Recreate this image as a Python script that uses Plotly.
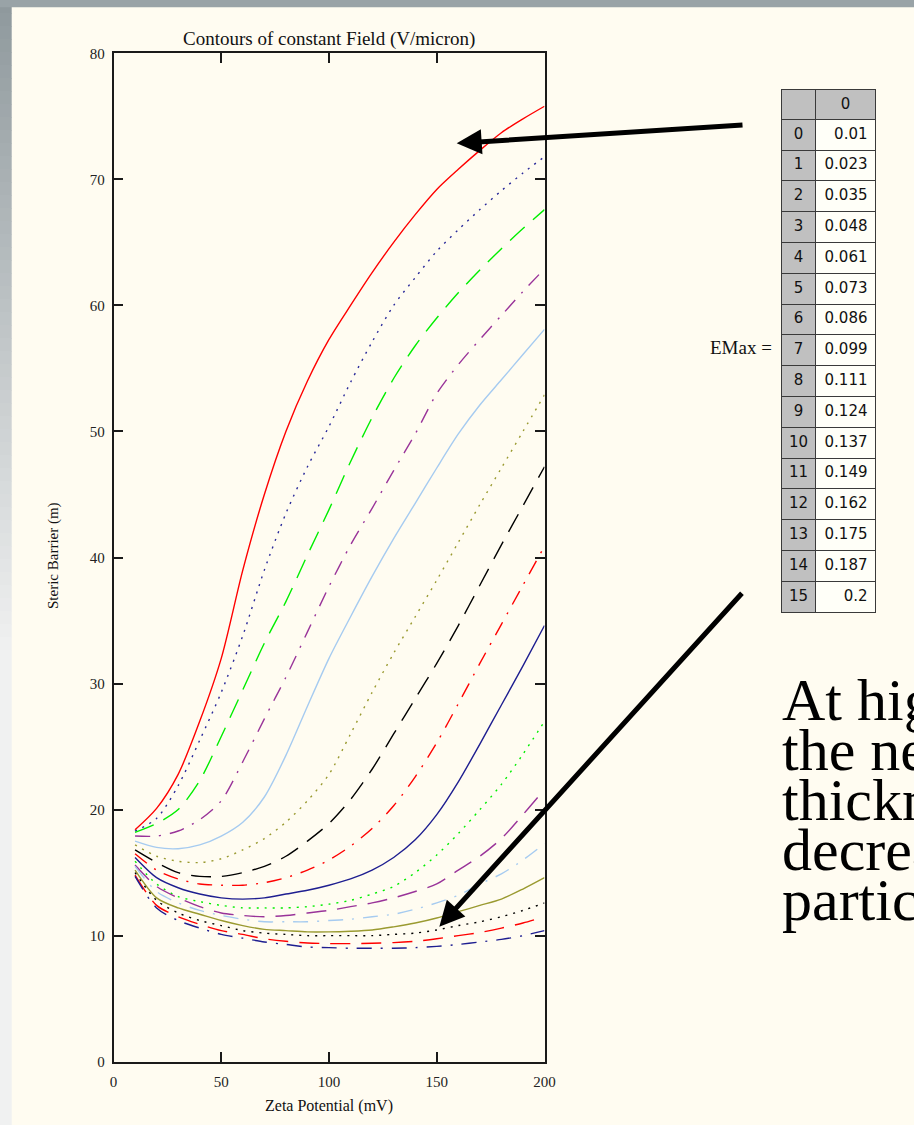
import plotly.graph_objects as go

W, H = 914, 1125

# ---------------- data ----------------
zeta = [10, 20, 30, 40, 50, 60, 70, 80, 90, 100, 110, 120, 130, 140, 150, 160, 170, 180, 190, 200]

emax_index = list(range(16))
emax_values = [0.01, 0.023, 0.035, 0.048, 0.061, 0.073, 0.086, 0.099,
               0.111, 0.124, 0.137, 0.149, 0.162, 0.175, 0.187, 0.2]

c00 = [18.4, 20.1, 22.8, 27.0, 32.0, 39.0, 45.0, 50.0, 54.0, 57.3, 60.0, 62.6, 65.0, 67.2, 69.2, 70.8, 72.3, 73.7, 74.8, 75.8]
c01 = [18.3, 19.3, 21.9, 25.5, 29.3, 33.8, 39.0, 43.5, 47.2, 50.4, 53.9, 57.1, 60.0, 62.2, 64.3, 66.0, 67.6, 69.1, 70.5, 71.8]
c02 = [18.2, 18.9, 20.0, 22.3, 25.8, 29.5, 33.2, 36.5, 40.2, 43.8, 47.6, 51.1, 54.2, 56.8, 59.0, 61.0, 62.8, 64.5, 66.1, 67.6]
c03 = [17.9, 17.9, 18.3, 19.2, 20.7, 23.8, 27.2, 30.5, 34.1, 37.7, 41.0, 43.9, 46.9, 49.8, 53.0, 55.3, 57.3, 59.2, 61.1, 62.9]
c04 = [17.5, 17.0, 16.9, 17.2, 17.9, 19.0, 21.0, 24.3, 28.2, 32.0, 35.3, 38.5, 41.5, 44.3, 47.1, 49.8, 52.1, 54.1, 56.1, 58.1]
c05 = [17.2, 16.3, 15.9, 15.8, 16.1, 16.8, 17.7, 19.0, 20.7, 22.8, 26.0, 29.3, 32.4, 35.3, 38.2, 41.2, 44.2, 47.1, 50.0, 52.9]
c06 = [16.8, 15.8, 15.0, 14.7, 14.7, 15.0, 15.5, 16.3, 17.5, 18.9, 20.8, 23.2, 26.0, 28.8, 31.6, 34.6, 37.8, 41.0, 44.1, 47.2]
c07 = [16.5, 15.2, 14.5, 14.1, 14.0, 14.0, 14.2, 14.6, 15.2, 16.0, 17.1, 18.5, 20.3, 22.6, 25.3, 28.4, 31.6, 34.7, 37.8, 40.9]
c08 = [16.2, 14.6, 13.8, 13.3, 13.0, 12.9, 13.0, 13.3, 13.6, 14.0, 14.5, 15.2, 16.2, 17.6, 19.6, 22.2, 25.2, 28.3, 31.4, 34.6]
c09 = [15.9, 14.1, 13.1, 12.7, 12.4, 12.2, 12.2, 12.2, 12.3, 12.5, 12.8, 13.3, 13.9, 15.0, 16.4, 18.1, 20.0, 22.0, 24.4, 27.0]
c10 = [15.6, 13.9, 13.0, 12.3, 11.8, 11.6, 11.5, 11.6, 11.8, 12.0, 12.3, 12.6, 13.0, 13.5, 14.1, 15.2, 16.3, 17.7, 19.6, 21.6]
c11 = [15.5, 13.5, 12.6, 12.0, 11.6, 11.3, 11.1, 11.1, 11.1, 11.2, 11.3, 11.5, 11.7, 12.1, 12.6, 13.2, 14.1, 14.9, 16.0, 17.3]
c12 = [15.2, 13.0, 12.2, 11.7, 11.2, 10.8, 10.5, 10.4, 10.3, 10.3, 10.35, 10.45, 10.7, 11.0, 11.4, 11.9, 12.4, 12.9, 13.7, 14.6]
c13 = [15.0, 12.8, 11.8, 11.2, 10.8, 10.4, 10.2, 10.1, 10.0, 10.0, 10.0, 10.0, 10.1, 10.2, 10.45, 10.8, 11.1, 11.5, 12.0, 12.6]
c14 = [14.8, 12.4, 11.5, 10.9, 10.4, 10.1, 9.75, 9.55, 9.42, 9.37, 9.37, 9.4, 9.45, 9.55, 9.75, 10.0, 10.25, 10.6, 11.0, 11.5]
c15 = [14.7, 12.2, 11.2, 10.6, 10.1, 9.8, 9.5, 9.3, 9.1, 9.05, 9.0, 9.0, 9.0, 9.05, 9.15, 9.3, 9.5, 9.7, 10.0, 10.4]

curves = [c00, c01, c02, c03, c04, c05, c06, c07, c08, c09, c10, c11, c12, c13, c14, c15]

x_ticks = [0, 50, 100, 150, 200]
y_ticks = [0, 10, 20, 30, 40, 50, 60, 70, 80]

# ---------------- styles ----------------
RED, BLUE, GREEN, PURPLE = "#ff0000", "#2a2a9a", "#00ee00", "#993399"
LBLUE, OLIVE, BLACK, NAVY = "#a6cbf0", "#9a9a30", "#000000", "#1e1e90"
DOT, DASH, DASHDOT = "2px,6px", "20px,11px", "15px,9px,2px,9px"
styles = [
    (RED, "solid"), (BLUE, DOT), (GREEN, DASH), (PURPLE, DASHDOT),
    (LBLUE, "solid"), (OLIVE, DOT), (BLACK, DASH), (RED, DASHDOT),
    (NAVY, "solid"), (GREEN, DOT), (PURPLE, DASH), (LBLUE, DASHDOT),
    (OLIVE, "solid"), (BLACK, DOT), (RED, DASH), (NAVY, DASHDOT),
]

BG = "#fffcf1"
SERIF = "Liberation Serif"

fig = go.Figure()
for i, ys in enumerate(curves):
    col, dash = styles[i]
    fig.add_trace(go.Scatter(x=zeta, y=ys, mode="lines", name=f"EMax {emax_values[i]}",
                             line=dict(color=col, dash=dash, width=1.4, shape="spline", smoothing=0.8),
                             showlegend=False, hoverinfo="skip"))

# table of EMax
GRAY = "#c0c0c0"
fig.add_trace(go.Table(
    domain=dict(x=[781.5 / W, 876.5 / W], y=[1 - 640 / H, 1 - 89.3 / H]),
    columnwidth=[34, 60],
    header=dict(values=["", "0"], fill_color=GRAY, align="center", height=30,
                line=dict(color="#3a3a3a", width=1),
                font=dict(family="DejaVu Sans", size=15, color="#111")),
    cells=dict(values=[emax_index, [f"{v:g}" for v in emax_values]],
               fill_color=[[GRAY] * 16, ["#fffff8"] * 16],
               align=["center", "right"], height=30.8,
               line=dict(color="#3a3a3a", width=1),
               font=dict(family="DejaVu Sans", size=15, color="#111")),
))

AX = dict(showline=True, linecolor="#1a1a1a", linewidth=1.5, mirror="ticks",
          ticks="inside", ticklen=10, tickwidth=1.5, tickcolor="#1a1a1a",
          showgrid=False, zeroline=False, automargin=False,
          tickfont=dict(family=SERIF, size=15, color="#222"))

fig.update_layout(
    template="none",
    width=W, height=H, autosize=False,
    margin=dict(l=0, r=0, t=0, b=0, pad=0, autoexpand=False),
    paper_bgcolor=BG, plot_bgcolor=BG,
    xaxis=dict(AX, domain=[113.5 / W, 544.5 / W], range=[0, 200], tickvals=x_ticks,
               ticklabelstandoff=6),
    yaxis=dict(AX, domain=[1 - 1061.7 / H, 1 - 53.3 / H], range=[0, 80], tickvals=y_ticks,
               ticklabelstandoff=4),
)

shapes = []
# left gradient strip
c_top = (0x8f, 0x99, 0x9d)
c_bot = (0xf0, 0xf1, 0xf1)
n = 50
G = 650.0
for k in range(n):
    yt, yb = k * G / n, (k + 1) * G / n
    t = (k + 0.5) / n
    c = tuple(int(a * (1 - t) + b * t) for a, b in zip(c_top, c_bot))
    shapes.append(dict(type="rect", xref="paper", yref="paper", x0=0, x1=11.7 / W,
                       y0=1 - (yb + 0.5) / H, y1=1 - yt / H,
                       fillcolor="rgb(%d,%d,%d)" % c, line=dict(width=0), layer="below"))
shapes.append(dict(type="rect", xref="paper", yref="paper", x0=0, x1=11.7 / W,
                   y0=0, y1=1 - G / H, fillcolor="#f0f1f1", line=dict(width=0), layer="below"))
# top gray band
shapes.append(dict(type="rect", xref="paper", yref="paper", x0=0, x1=1, y0=1 - 7.3 / H, y1=1,
                   fillcolor="#99a3a7", line=dict(width=0), layer="below"))
fig.update_layout(shapes=shapes)

ann = []
ann.append(dict(text="Contours of constant Field (V/micron)", x=329 / W, y=1 - 39 / H,
                xref="paper", yref="paper", showarrow=False, xanchor="center", yanchor="middle",
                font=dict(family=SERIF, size=19, color="#111")))
ann.append(dict(text="Zeta Potential (mV)", x=329 / W, y=1 - 1106 / H,
                xref="paper", yref="paper", showarrow=False, xanchor="center", yanchor="middle",
                font=dict(family=SERIF, size=16, color="#111")))
ann.append(dict(text="Steric Barrier (m)", x=53 / W, y=1 - 556 / H, textangle=-90,
                xref="paper", yref="paper", showarrow=False, xanchor="center", yanchor="middle",
                font=dict(family=SERIF, size=15, color="#111")))
ann.append(dict(text="EMax =", x=774 / W, y=1 - 347 / H,
                xref="paper", yref="paper", showarrow=False, xanchor="right", yanchor="middle",
                font=dict(family=SERIF, size=19, color="#111")))

lines = ["At higher field,", "the net steric", "thickness", "decreases the", "particle"]
for i, s in enumerate(lines):
    ann.append(dict(text=s, x=780 / W, y=1 - (700 + i * 50) / H,
                    xref="paper", yref="paper", showarrow=False, xanchor="left", yanchor="middle",
                    font=dict(family=SERIF, size=60, color="#000")))

# arrows
for (hx, hy, tx, ty) in [(456.7, 143.3, 744, 125), (439.3, 926.7, 743.3, 591.7)]:
    ann.append(dict(text="", x=hx / W, y=1 - hy / H, xref="paper", yref="paper",
                    ax=tx - hx, ay=ty - hy, showarrow=True, arrowhead=2, arrowsize=1.0,
                    arrowwidth=5, arrowcolor="#000", standoff=0))
fig.update_layout(annotations=ann)

fig.write_html("out.html", config={"displayModeBar": False},
               post_script="document.body.style.margin='0';document.body.style.overflow='hidden';")
